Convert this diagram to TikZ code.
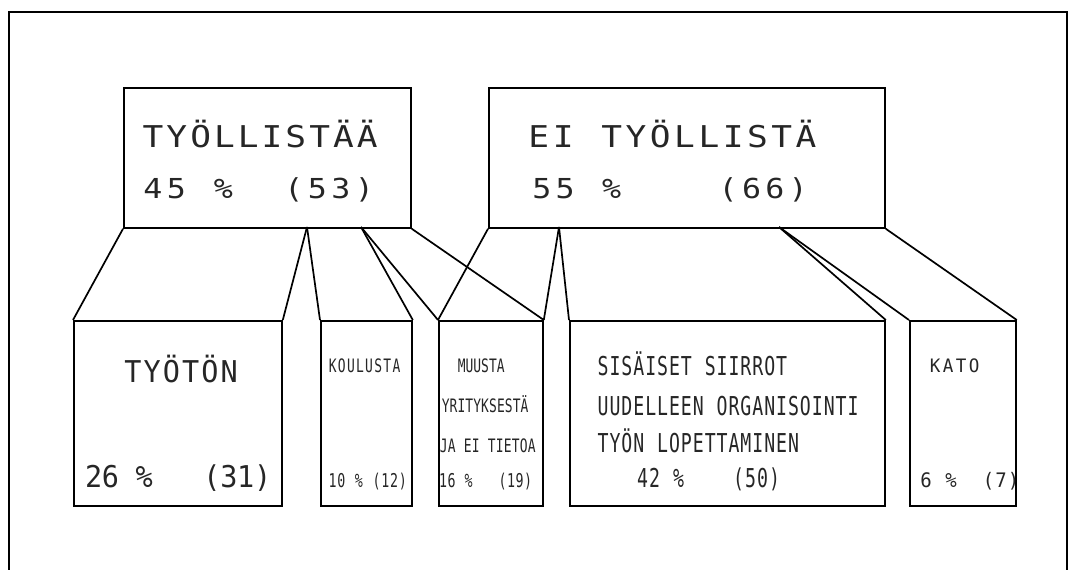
\documentclass[tikz,border=0pt]{standalone}
\usepackage{fontspec}
\newfontfamily\plotA[FakeStretch=1.15]{DejaVu Sans Mono}
\newfontfamily\plotB[FakeStretch=0.95]{DejaVu Sans Mono}
\newfontfamily\plotC[FakeStretch=0.7]{DejaVu Sans Mono}
\newlength\plotpitch
\def\plotloop#1{\ifx#1\relax\else\makebox[\plotpitch]{#1}\expandafter\plotloop\fi}
\newcommand\plotspaced[2]{\setlength\plotpitch{#1}\plotloop#2\relax}
\begin{document}
\begin{tikzpicture}[x=1pt,y=-1pt,
  boxst/.style={draw, line width=1.8pt, inner sep=0pt, anchor=north west},
  con/.style={line width=1.7pt},
  txt/.style={anchor=base west, inner sep=0pt, text=black!85}]
\useasboundingbox (0,0) rectangle (1076,570);
% outer frame (open at the bottom)
\draw[line width=1.8pt] (9,575) -- (9,12) -- (1067,12) -- (1067,575);
% boxes
\node[boxst, minimum width=287pt, minimum height=140pt] (A) at (123,87) {};
\node[boxst, minimum width=396pt, minimum height=140pt] (B) at (488,87) {};
\node[boxst, minimum width=208pt, minimum height=185pt] (T) at (73,320) {};
\node[boxst, minimum width=91pt, minimum height=185pt] (K) at (320,320) {};
\node[boxst, minimum width=104pt, minimum height=185pt] (M) at (438,320) {};
\node[boxst, minimum width=315pt, minimum height=185pt] (S) at (569,320) {};
\node[boxst, minimum width=106pt, minimum height=185pt] (C) at (909,320) {};
% fan points
\coordinate (pA1) at (307,227);
\coordinate (pA2) at (361,227);
\coordinate (pB1) at (559,227);
\coordinate (pB2) at (779,227);
% connectors
\draw[con] (A.south west) -- (T.north west);
\draw[con] (pA1) -- (T.north east);
\draw[con] (pA1) -- (K.north west);
\draw[con] (pA2) -- (K.north east);
\draw[con] (pA2) -- (M.north west);
\draw[con] (A.south east) -- (M.north east);
\draw[con] (B.south west) -- (M.north west);
\draw[con] (pB1) -- (M.north east);
\draw[con] (pB1) -- (S.north west);
\draw[con] (pB2) -- (S.north east);
\draw[con] (pB2) -- (C.north west);
\draw[con] (B.south east) -- (C.north east);
% texts
\node[txt, font=\plotA\fontsize{30pt}{30pt}\selectfont] (a1) at (141,147) {\plotspaced{23.8pt}{TYÖLLISTÄÄ}};
\node[txt, font=\plotA\fontsize{27.5pt}{27.5pt}\selectfont] (a2) at (141,198) {\plotspaced{23.5pt}{45~\%~~(53)}};
\node[txt, font=\plotA\fontsize{30pt}{30pt}\selectfont] (b1) at (526.5,147) {\plotspaced{24.3pt}{EI~TYÖLLISTÄ}};
\node[txt, font=\plotA\fontsize{27.5pt}{27.5pt}\selectfont] (b2) at (530,198) {\plotspaced{23.3pt}{55~\%~~~~(66)}};
\node[txt, font=\plotB\fontsize{30pt}{30pt}\selectfont] (t1) at (123,382) {\plotspaced{19.3pt}{TYÖTÖN}};
\node[txt, font=\plotB\fontsize{30pt}{30pt}\selectfont] (t2) at (85,487) {\plotspaced{16.9pt}{26~\%~~~(31)}};
\node[txt, font=\plotC\fontsize{18.5pt}{18.5pt}\selectfont] (k1) at (328,372) {\plotspaced{9.1pt}{KOULUSTA}};
\node[txt, font=\plotC\fontsize{19pt}{19pt}\selectfont] (k2) at (328,487) {\plotspaced{8.8pt}{10~\%~(12)}};
\node[txt, font=\plotC\fontsize{18.5pt}{18.5pt}\selectfont] (m1) at (457.6,372) {\plotspaced{7.8pt}{MUUSTA}};
\node[txt, font=\plotC\fontsize{18.5pt}{18.5pt}\selectfont] (m2) at (441.5,412) {\plotspaced{7.9pt}{YRITYKSESTÄ}};
\node[txt, font=\plotC\fontsize{18.5pt}{18.5pt}\selectfont] (m3) at (439.5,452) {\plotspaced{8pt}{JA~EI~TIETOA}};
\node[txt, font=\plotC\fontsize{19pt}{19pt}\selectfont] (m4) at (438.75,487) {\plotspaced{8.5pt}{16~\%~~~(19)}};
\node[txt, font=\plotC\fontsize{26pt}{26pt}\selectfont] (s1) at (597,375) {\plotspaced{11.9pt}{SISÄISET~SIIRROT}};
\node[txt, font=\plotC\fontsize{26pt}{26pt}\selectfont] (s2) at (597,415) {\plotspaced{11.9pt}{UUDELLEEN~ORGANISOINTI}};
\node[txt, font=\plotC\fontsize{26pt}{26pt}\selectfont] (s3) at (597,452) {\plotspaced{11.9pt}{TYÖN~LOPETTAMINEN}};
\node[txt, font=\plotC\fontsize{26pt}{26pt}\selectfont] (s4) at (636.5,487) {\plotspaced{12pt}{42~\%~~~~(50)}};
\node[txt, font=\plotB\fontsize{18.5pt}{18.5pt}\selectfont] (c1) at (928.5,372) {\plotspaced{13pt}{KATO}};
\node[txt, font=\plotB\fontsize{20pt}{20pt}\selectfont] (c2) at (919.75,487) {\plotspaced{12.5pt}{6~\%~~(7)}};
\end{tikzpicture}
\end{document}
